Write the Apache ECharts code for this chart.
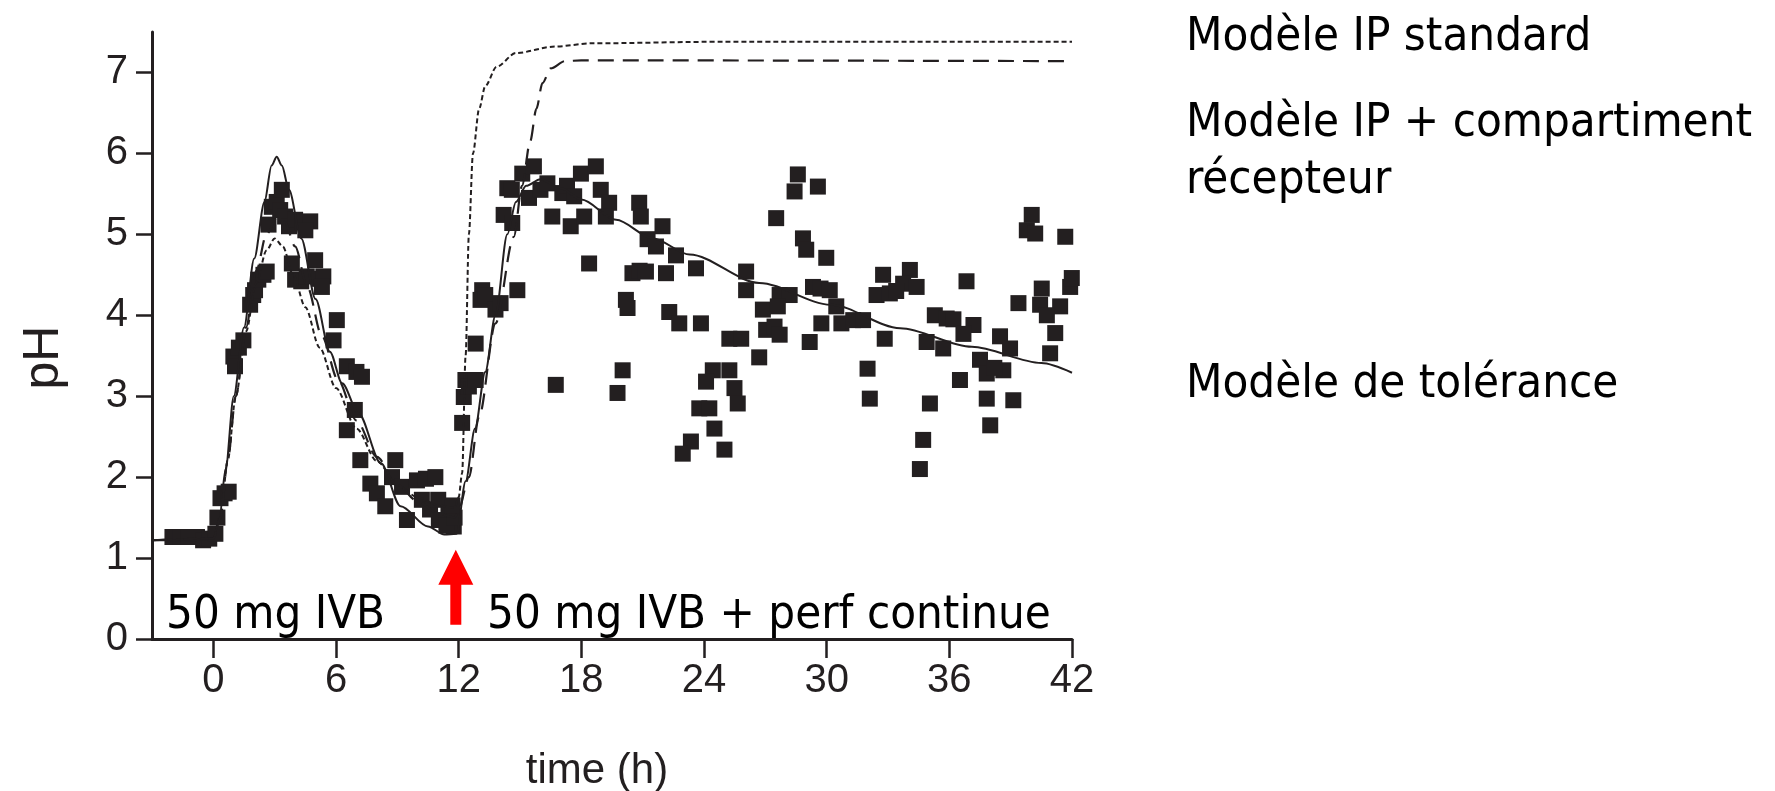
<!DOCTYPE html>
<html>
<head>
<meta charset="utf-8">
<script src="https://cdn.jsdelivr.net/npm/echarts@6/dist/echarts.min.js"></script>
<style>
html,body{margin:0;padding:0;background:#fff;}
#chart{width:1775px;height:791px;}
</style>
</head>
<body>
<div id="chart"></div>
<script>
// ---- Data (time in h, pH) ----
const xTicks = [0, 6, 12, 18, 24, 30, 36, 42];
const yTicks = [0, 1, 2, 3, 4, 5, 6, 7];

const observed = [
  [-2.0,1.26],[-1.6,1.26],[-1.2,1.26],[-0.8,1.26],[-0.5,1.22],[-0.2,1.24],[0.1,1.3],[0.2,1.5],[0.35,1.74],[0.55,1.8],[0.75,1.82],
  [0.98,3.49],[1.06,3.37],[1.25,3.6],[1.47,3.69],[1.8,4.13],[1.95,4.25],[2.04,4.31],[2.2,4.44],[2.45,4.5],[2.61,4.54],
  [2.7,5.12],[2.86,5.34],[3.1,5.4],[3.35,5.55],[3.27,5.3],[3.51,5.22],[3.7,5.1],[4.0,5.18],[4.35,5.15],[4.74,5.16],[4.5,5.05],
  [3.84,4.64],[4.0,4.44],[4.3,4.42],[4.57,4.48],[4.98,4.68],[5.2,4.45],[5.38,4.48],[5.31,4.35],
  [6.04,3.94],[5.88,3.69],[6.53,3.37],[7.0,3.3],[7.27,3.24],[6.92,2.83],[6.53,2.58],
  [7.19,2.21],[7.68,1.92],[8.0,1.8],[8.41,1.64],[8.9,2.21],[8.74,2.0],[9.23,1.88],[9.47,1.47],[9.96,1.96],[10.4,1.98],[10.86,2.0],
  [10.2,1.72],[10.6,1.6],[11.0,1.72],[11.5,1.55],[11.76,1.39],[11.03,1.47],[11.4,1.4],[11.8,1.5],[11.7,1.65],
  [12.17,2.67],[12.25,2.99],[12.33,3.2],[12.5,3.12],[12.83,3.2],[12.83,3.65],[13.15,4.31],[13.07,4.19],[13.3,4.25],[13.8,4.07],[14.05,4.15],[14.87,4.31],
  [14.2,5.24],[14.62,5.14],[14.38,5.57],[14.6,5.55],[15.11,5.75],[15.68,5.84],[15.44,5.45],[16.0,5.55],[16.34,5.63],[16.58,5.22],[17.07,5.51],[17.3,5.6],
  [17.48,5.1],[17.65,5.47],[17.98,5.75],[18.71,5.84],[18.14,5.22],[18.95,5.55],[19.36,5.39],[19.2,5.22],
  [18.38,4.64],[20.83,5.39],[20.91,5.22],[21.97,5.1],[21.24,4.94],[21.65,4.85],[22.63,4.74],[23.61,4.58],
  [20.5,4.52],[20.85,4.55],[21.16,4.54],[22.14,4.52],[20.18,4.19],[20.26,4.09],[22.3,4.04],[22.79,3.9],[23.85,3.9],
  [26.06,4.54],[26.06,4.31],[26.88,4.07],[27.04,3.82],[25.24,3.71],[25.82,3.71],[26.7,3.48],
  [20.02,3.32],[16.75,3.14],[19.77,3.04],[24.43,3.32],[25.24,3.32],[24.1,3.18],[25.49,3.1],[25.65,2.91],
  [23.77,2.85],[24.26,2.85],[24.51,2.6],[23.36,2.44],[22.96,2.29],[25.0,2.34],
  [28.59,5.74],[28.43,5.53],[29.57,5.59],[27.53,5.2],[28.84,4.95],[29.0,4.81],[29.98,4.71],
  [27.7,4.25],[28.19,4.25],[27.61,4.11],[27.45,3.86],[27.7,3.76],
  [29.33,4.35],[29.7,4.33],[30.15,4.31],[30.47,4.11],[30.72,3.9],[31.3,3.94],[31.78,3.94],[29.74,3.9],[29.17,3.67],
  [32.76,4.5],[34.07,4.56],[32.44,4.25],[33.09,4.27],[33.74,4.39],[34.4,4.35],[33.4,4.3],
  [32.84,3.71],[32.0,3.34],[32.11,2.97],[36.84,4.42],
  [35.29,4.0],[35.87,3.96],[36.2,3.95],[37.18,3.88],[36.69,3.77],[34.89,3.67],[35.7,3.59],
  [38.48,3.74],[38.97,3.59],[37.5,3.45],[37.83,3.28],[38.64,3.32],[38.2,3.35],
  [36.52,3.2],[37.83,2.97],[39.13,2.95],[38.0,2.64],[35.05,2.91],[34.72,2.46],[34.56,2.1],
  [40.03,5.24],[39.79,5.05],[40.2,5.01],[41.67,4.97],
  [39.38,4.15],[40.52,4.33],[40.44,4.13],[41.42,4.11],[40.77,4.0],[41.91,4.35],[41.99,4.46],
  [41.18,3.78],[40.93,3.53]
];

const toleranceModel = [
  [-3,1.22],[-1,1.22],[0,1.24],[0.3,1.5],[0.6,2.1],[1.0,3.0],[1.5,3.85],[2.0,4.7],[2.5,5.4],[2.85,5.85],[3.1,5.96],
  [3.35,5.85],[3.7,5.55],[4.3,4.95],[5.0,4.2],[5.7,3.55],[6.3,3.16],[7.1,2.79],[8.2,2.17],[9.16,1.64],[10.5,1.39],
  [11.3,1.29],[11.9,1.3],[12.34,1.95],[12.8,2.6],[13.3,3.3],[13.8,4.0],[14.38,5.0],[14.8,5.4],[15.3,5.6],[16.0,5.68],
  [17.0,5.57],[18.0,5.43],[19.7,5.18],[21.5,4.95],[23.3,4.75],[26.7,4.40],[30.2,4.13],[33.6,3.84],[37.1,3.61],[40.5,3.41],[42,3.29]
];

const receptorModel = [
  [-3,1.22],[0,1.24],[0.35,1.5],[0.7,2.2],[1.1,3.0],[1.6,3.85],[2.1,4.55],[2.6,5.0],[3.1,5.2],[3.5,5.15],[4.0,4.85],
  [4.6,4.35],[5.3,3.75],[6.1,3.2],[7.0,2.7],[8.0,2.25],[9.0,1.9],[10,1.7],[11,1.55],[11.8,1.5],[12.0,1.6],
  [12.5,2.0],[13.0,2.75],[13.8,3.9],[14.7,4.97],[15.1,5.6],[15.5,6.15],[15.8,6.55],[16.1,6.87],[16.5,7.05],[17.2,7.14],[18,7.15],[42,7.14]
];

const standardModel = [
  [-3,1.22],[0,1.24],[0.35,1.5],[0.7,2.2],[1.1,3.0],[1.6,3.8],[2.1,4.4],[2.6,4.8],[3.0,4.95],[3.4,4.85],[3.9,4.5],
  [4.5,4.1],[5.2,3.6],[6.0,3.1],[7.0,2.6],[8.0,2.2],[9.0,1.9],[10,1.75],[11,1.65],[11.8,1.62],[12.0,1.75],
  [12.17,2.05],[12.34,3.5],[12.5,5.0],[12.7,6.0],[13.0,6.55],[13.3,6.83],[13.85,7.07],[14.8,7.24],[16.7,7.32],[18.5,7.36],[25,7.38],[42,7.38]
];

const arrowPoint = [[11.86, 0.64]];

const legendTexts = [
  {text: 'Modèle IP standard', baseline: 51},
  {text: 'Modèle IP + compartiment', baseline: 137},
  {text: 'récepteur', baseline: 194},
  {text: 'Modèle de tolérance', baseline: 398}
];
const doseTexts = [
  {text: '50 mg IVB', left: 166},
  {text: '50 mg IVB + perf continue', left: 487}
];

// ---- Chart ----
const chart = echarts.init(document.getElementById('chart'), null, {renderer: 'canvas'});
const annoFont = '47px "DejaVu Sans Condensed", "DejaVu Sans", sans-serif';
const axisFont = 'Liberation Sans';
const ink = '#231f20';

const graphic = [];
legendTexts.forEach(t => graphic.push({
  type: 'text', left: 1186, top: t.baseline - 37,
  style: {text: t.text, font: annoFont, fill: '#000'}
}));
doseTexts.forEach(t => graphic.push({
  type: 'text', left: t.left, top: 626 - 34,
  style: {text: t.text, font: annoFont, fill: '#000'}
}));

const lineBase = {type: 'line', showSymbol: false, symbol: 'none', smooth: 0.3, smoothMonotone: 'x', z: 3, silent: true};

chart.setOption({
  animation: false,
  backgroundColor: '#fff',
  grid: {left: 152, right: 703, top: 32, bottom: 152, containLabel: false, outerBoundsMode: 'none'},
  xAxis: {
    type: 'value', min: -3, max: 42,
    splitLine: {show: false},
    axisLine: {show: true, onZero: false, lineStyle: {color: ink, width: 3}},
    axisTick: {show: true, customValues: xTicks, length: 19, lineStyle: {color: ink, width: 2.5}},
    axisLabel: {customValues: xTicks, fontSize: 40, fontFamily: axisFont, color: ink, margin: 22},
    name: 'time (h)', nameLocation: 'middle', nameGap: 111,
    nameTextStyle: {fontSize: 42, fontFamily: axisFont, color: ink, padding: [0, 30, 0, 0]}
  },
  yAxis: {
    type: 'value', min: 0, max: 7.5,
    splitLine: {show: false},
    axisLine: {show: true, onZero: false, lineStyle: {color: ink, width: 3}},
    axisTick: {show: true, customValues: yTicks, length: 16, lineStyle: {color: ink, width: 2.5}},
    axisLabel: {customValues: yTicks, fontSize: 40, fontFamily: axisFont, color: ink, margin: 24, padding: [0, 0, 18, 0]},
    name: 'pH', nameLocation: 'middle', nameGap: 83,
    nameTextStyle: {fontSize: 50, fontFamily: axisFont, color: ink, padding: [0, 44, 0, 0]}
  },
  graphic: graphic,
  series: [
    {type: 'scatter', data: observed, symbol: 'rect', symbolSize: 16, itemStyle: {color: ink, opacity: 1}, z: 2, silent: true},
    Object.assign({}, lineBase, {name: 'Modèle de tolérance', data: toleranceModel, lineStyle: {color: ink, width: 2, type: 'solid'}}),
    Object.assign({}, lineBase, {name: 'Modèle IP + compartiment récepteur', data: receptorModel, lineStyle: {color: ink, width: 2.2, type: [16, 9]}}),
    Object.assign({}, lineBase, {name: 'Modèle IP standard', data: standardModel, lineStyle: {color: ink, width: 2, type: [5, 3]}}),
    {type: 'scatter', data: arrowPoint, z: 5, silent: true,
     symbol: 'path://M17.5,0 L35,35 L23,35 L23,75 L12,75 L12,35 L0,35 Z',
     symbolSize: [35, 75], symbolKeepAspect: false, itemStyle: {color: '#ff0000', opacity: 1}}
  ]
});
</script>
</body>
</html>
